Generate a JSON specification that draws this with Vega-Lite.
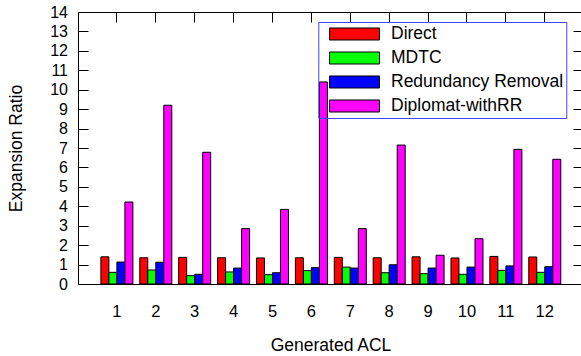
{
  "$schema": "https://vega.github.io/schema/vega-lite/v6.json",
  "width": 503,
  "height": 272,
  "autosize": {"type": "none"},
  "padding": {"left": 78, "top": 12, "right": 0, "bottom": 72},
  "background": "white",
  "config": {"view": {"stroke": null}, "font": "Liberation Sans", "axis": {"grid": false}},
  "data": {"values": [
    {"acl": 1, "series": "Direct", "ratio": 1.40}, {"acl": 1, "series": "MDTC", "ratio": 0.60}, {"acl": 1, "series": "Redundancy Removal", "ratio": 1.13}, {"acl": 1, "series": "Diplomat-withRR", "ratio": 4.22},
    {"acl": 2, "series": "Direct", "ratio": 1.35}, {"acl": 2, "series": "MDTC", "ratio": 0.72}, {"acl": 2, "series": "Redundancy Removal", "ratio": 1.12}, {"acl": 2, "series": "Diplomat-withRR", "ratio": 9.20},
    {"acl": 3, "series": "Direct", "ratio": 1.37}, {"acl": 3, "series": "MDTC", "ratio": 0.43}, {"acl": 3, "series": "Redundancy Removal", "ratio": 0.50}, {"acl": 3, "series": "Diplomat-withRR", "ratio": 6.78},
    {"acl": 4, "series": "Direct", "ratio": 1.35}, {"acl": 4, "series": "MDTC", "ratio": 0.62}, {"acl": 4, "series": "Redundancy Removal", "ratio": 0.82}, {"acl": 4, "series": "Diplomat-withRR", "ratio": 2.85},
    {"acl": 5, "series": "Direct", "ratio": 1.34}, {"acl": 5, "series": "MDTC", "ratio": 0.48}, {"acl": 5, "series": "Redundancy Removal", "ratio": 0.58}, {"acl": 5, "series": "Diplomat-withRR", "ratio": 3.84},
    {"acl": 6, "series": "Direct", "ratio": 1.35}, {"acl": 6, "series": "MDTC", "ratio": 0.69}, {"acl": 6, "series": "Redundancy Removal", "ratio": 0.84}, {"acl": 6, "series": "Diplomat-withRR", "ratio": 10.40},
    {"acl": 7, "series": "Direct", "ratio": 1.37}, {"acl": 7, "series": "MDTC", "ratio": 0.87}, {"acl": 7, "series": "Redundancy Removal", "ratio": 0.82}, {"acl": 7, "series": "Diplomat-withRR", "ratio": 2.85},
    {"acl": 8, "series": "Direct", "ratio": 1.35}, {"acl": 8, "series": "MDTC", "ratio": 0.58}, {"acl": 8, "series": "Redundancy Removal", "ratio": 0.99}, {"acl": 8, "series": "Diplomat-withRR", "ratio": 7.15},
    {"acl": 9, "series": "Direct", "ratio": 1.40}, {"acl": 9, "series": "MDTC", "ratio": 0.53}, {"acl": 9, "series": "Redundancy Removal", "ratio": 0.82}, {"acl": 9, "series": "Diplomat-withRR", "ratio": 1.48},
    {"acl": 10, "series": "Direct", "ratio": 1.34}, {"acl": 10, "series": "MDTC", "ratio": 0.50}, {"acl": 10, "series": "Redundancy Removal", "ratio": 0.87}, {"acl": 10, "series": "Diplomat-withRR", "ratio": 2.33},
    {"acl": 11, "series": "Direct", "ratio": 1.42}, {"acl": 11, "series": "MDTC", "ratio": 0.70}, {"acl": 11, "series": "Redundancy Removal", "ratio": 0.93}, {"acl": 11, "series": "Diplomat-withRR", "ratio": 6.93},
    {"acl": 12, "series": "Direct", "ratio": 1.39}, {"acl": 12, "series": "MDTC", "ratio": 0.60}, {"acl": 12, "series": "Redundancy Removal", "ratio": 0.89}, {"acl": 12, "series": "Diplomat-withRR", "ratio": 6.42}
  ]},
  "layer": [
    {
      "mark": {"type": "bar", "stroke": "#000", "strokeWidth": 1},
      "encoding": {
        "x": {
          "field": "acl", "type": "ordinal",
          "scale": {"paddingInner": 0.177, "paddingOuter": 0.554, "align": 0.531, "round": false},
          "axis": {"orient": "bottom", "title": "Generated ACL", "labelAngle": 0, "ticks": false, "domain": true, "domainColor": "#000", "domainWidth": 1,
            "labelFontSize": 16.5, "labelColor": "#000", "labelBaseline": "alphabetic", "labelPadding": 32, "labelOverlap": false,
            "titleFontSize": 17.5, "titleFontWeight": "normal", "titleColor": "#000", "titleX": 252.5, "titleY": 66, "titleBaseline": "alphabetic", "titleAlign": "center"}
        },
        "xOffset": {"field": "series", "type": "nominal", "sort": ["Direct", "MDTC", "Redundancy Removal", "Diplomat-withRR"], "scale": {"paddingInner": 0, "paddingOuter": 0}},
        "y": {
          "field": "ratio", "type": "quantitative",
          "scale": {"domain": [0, 14], "nice": false},
          "axis": {"orient": "left", "values": [0,1,2,3,4,5,6,7,8,9,10,11,12,13,14], "tickSize": -10, "tickColor": "#000", "tickWidth": 1,
            "labelPadding": 20.5, "labelFontSize": 16, "labelColor": "#000", "labelOverlap": false, "domain": true, "domainColor": "#000", "domainWidth": 1,
            "title": "Expansion Ratio", "titleFontSize": 17.5, "titleFontWeight": "normal", "titleColor": "#000", "titleX": -57, "titleY": 136, "titleAngle": 270, "titleBaseline": "alphabetic", "titleAlign": "center"}
        },
        "color": {
          "field": "series", "type": "nominal",
          "sort": ["Direct", "MDTC", "Redundancy Removal", "Diplomat-withRR"],
          "scale": {"domain": ["Direct", "MDTC", "Redundancy Removal", "Diplomat-withRR"], "range": ["#ff0000", "#00ff00", "#0000ff", "#ff00ff"]},
          "legend": {
            "orient": "none", "legendX": 240.3, "legendY": 10, "title": null, "padding": 3,
            "strokeColor": "#4444ff",
            "symbolType": "M-0.094,-0.706H5.79V0.706H-0.094Z", "symbolSize": 289,
            "symbolStrokeColor": "#000", "symbolStrokeWidth": 1, "symbolOpacity": 1,
            "labelFontSize": 17.5, "labelColor": "#000", "labelOffset": 51.7, "labelLimit": 300, "rowPadding": 6
          }
        }
      }
    },
    {
      "mark": {"type": "point", "opacity": 0},
      "encoding": {
        "x": {"field": "acl", "type": "ordinal", "axis": {"orient": "top", "labels": false, "title": null, "tickSize": -10, "tickColor": "#000", "tickWidth": 1, "domain": true, "domainColor": "#000", "domainWidth": 1}},
        "y": {"field": "ratio", "type": "quantitative", "axis": {"orient": "right", "labels": false, "title": null, "tickSize": -8, "tickColor": "#000", "tickWidth": 1, "domain": false, "values": [0,1,2,3,4,5,6,7,8,9,10,11,12,13,14]}}
      }
    }
  ],
  "resolve": {"axis": {"x": "independent", "y": "independent"}}
}
